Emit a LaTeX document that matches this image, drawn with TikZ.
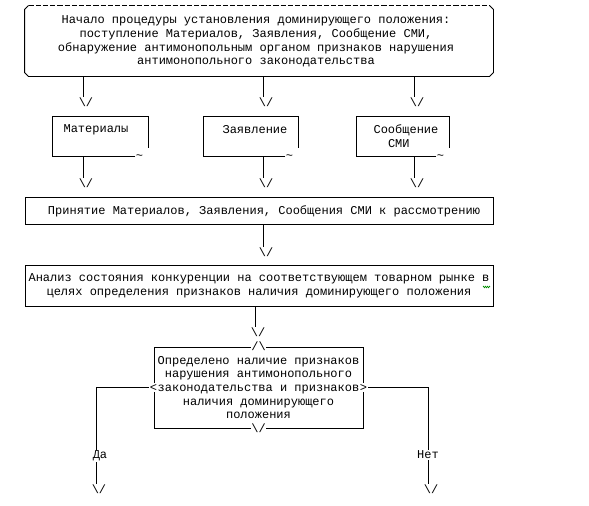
\documentclass[tikz,border=0pt]{standalone}
\usepackage{fontspec}
\setmainfont{Liberation Mono}
\usetikzlibrary{calc,decorations.pathmorphing}

\begin{document}
\begin{tikzpicture}[x=1pt, y=-1pt, line width=0.9pt,
	every node/.style={inner sep=0, font=\fontsize{12}{13.7}\selectfont},
	bx/.style={rectangle},
	txt/.style={align=center},
	vtip/.style={anchor=north, xshift=3pt},
	cover/.style={fill=white, inner sep=0.6pt}]
	
	\useasboundingbox (0,0) rectangle (589,506);
	
	% start of the procedure
	\node (start) at (259,41) [bx, minimum width=468pt, minimum height=70pt] {};
	\node (startt) at (256,41.5) [txt] {Начало процедуры установления доминирующего положения:\\поступление Материалов, Заявления, Сообщение СМИ,\\обнаружение антимонопольным органом признаков нарушения\\антимонопольного законодательства};
	\draw[dash pattern=on 5.2pt off 2pt] ([xshift=4pt]start.north west) -- ([xshift=-4pt]start.north east);
	\draw ([xshift=4pt]start.north west) -- ([yshift=-4pt]start.north west) -- ([yshift=4pt]start.south west) -- ([xshift=4pt]start.south west) -- ([xshift=-4pt]start.south east) -- ([yshift=4pt]start.south east) -- ([yshift=-4pt]start.north east) -- ([xshift=-4pt]start.north east);
	
	\coordinate (c1) at (83,97);
	\coordinate (c2) at (263,97);
	\coordinate (c3) at (414,97);
	\draw (start.south -| c1) -- (c1);
	\draw (start.south -| c2) -- (c2);
	\draw (start.south -| c3) -- (c3);
	\node (t1) at (c1) [vtip] {\textbackslash/};
	\node (t2) at (c2) [vtip] {\textbackslash/};
	\node (t3) at (c3) [vtip] {\textbackslash/};
	
	% three sources
	\node (mat) at (100.5,136.5) [bx, minimum width=95pt, minimum height=39pt] {};
	\node (zay) at (251,136.5) [bx, minimum width=94pt, minimum height=39pt] {};
	\node (smi) at (403,136.5) [bx, minimum width=92pt, minimum height=39pt] {};
	\node (matt) at (96,130) {Материалы};
	\node (zayt) at (255,130) {Заявление};
	\node (smit) at (406,136) [align=left] {Сообщение\\\phantom{Со}СМИ};
	\draw ([xshift=-13pt]mat.south east) -- (mat.south west) -- (mat.north west) -- (mat.north east) -- ([yshift=8pt]mat.south east);
	\draw ([xshift=-13pt]zay.south east) -- (zay.south west) -- (zay.north west) -- (zay.north east) -- ([yshift=8pt]zay.south east);
	\draw ([xshift=-13pt]smi.south east) -- (smi.south west) -- (smi.north west) -- (smi.north east) -- ([yshift=8pt]smi.south east);
	\node (matw) at ([xshift=-9pt, yshift=-1pt]mat.south east) {\textasciitilde};
	\node (zayw) at ([xshift=-9pt, yshift=-1pt]zay.south east) {\textasciitilde};
	\node (smiw) at ([xshift=-9pt, yshift=-1pt]smi.south east) {\textasciitilde};
	
	\coordinate (d1) at (83,178);
	\coordinate (d2) at (263,178);
	\coordinate (d3) at (414,178);
	\draw (mat.south -| d1) -- (d1);
	\draw (zay.south -| d2) -- (d2);
	\draw (smi.south -| d3) -- (d3);
	\node (u1) at (d1) [vtip] {\textbackslash/};
	\node (u2) at (d2) [vtip] {\textbackslash/};
	\node (u3) at (d3) [vtip] {\textbackslash/};
	
	% acceptance
	\node (acc) at (259,210.5) [bx, draw, minimum width=468pt, minimum height=27pt] {};
	\node (acct) at (264,211.5) {Принятие Материалов, Заявления, Сообщения СМИ к рассмотрению};
	\coordinate (e1) at (263,247);
	\draw (acc.south -| e1) -- (e1);
	\node (v1) at (e1) [vtip] {\textbackslash/};
	
	% analysis
	\node (ana) at (259,285.5) [bx, draw, minimum width=468pt, minimum height=41pt, txt] {Анализ состояния конкуренции на соответствующем товарном рынке в\\целях определения признаков наличия доминирующего положения};
	\draw[green!55!black, line width=0.6pt, decorate, decoration={zigzag, amplitude=0.8pt, segment length=2pt}] (483,287) -- (490,287);
	\coordinate (f1) at (255,327);
	\draw (ana.south -| f1) -- (f1);
	\node (w1) at (f1) [vtip] {\textbackslash/};
	
	% decision
	\node (dec) at (258.5,387.5) [bx, draw, minimum width=209pt, minimum height=81pt, txt] {Определено наличие признаков\\нарушения антимонопольного\\законодательства и признаков\\наличия доминирующего\\положения};
	\node (dtop) at (dec.north) [cover] {/\textbackslash};
	\node (dbot) at (dec.south) [cover] {\textbackslash/};
	\node (lt) at (dec.west) [cover] {<};
	\node (gt) at (dec.east) [cover] {>};
	
	\coordinate (yc) at (96,484);
	\coordinate (nc) at (428,484);
	\draw (lt.west) -| (yc);
	\draw (gt.east) -| (nc);
	\node (yes) at (100,456) [cover] {Да};
	\node (no) at (428,455) [cover] {Нет};
	\node (yt) at (yc) [vtip] {\textbackslash/};
	\node (nt) at (nc) [vtip] {\textbackslash/};
	
\end{tikzpicture}
\end{document}
